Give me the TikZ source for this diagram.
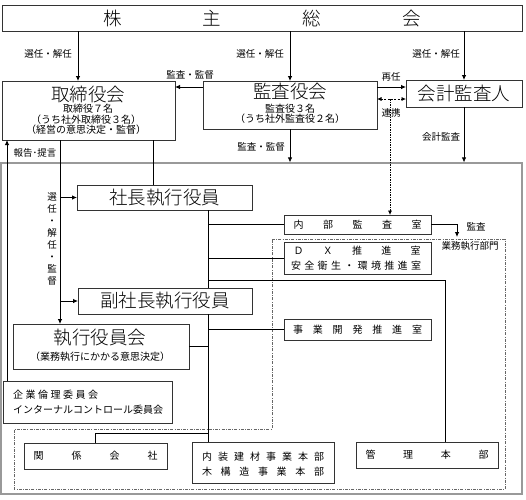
\documentclass[tikz,border=0pt]{standalone}
\usepackage{fontspec}
\setmainfont{Noto Sans CJK JP}
\IfFontExistsTF{Noto Sans CJK JP Light}{\newfontfamily\titlefont{Noto Sans CJK JP Light}}{\newfontfamily\titlefont{Noto Sans CJK JP}}
\usetikzlibrary{arrows.meta}
\begin{document}
\begin{tikzpicture}[x=1pt,y=-1pt,
 box/.style={draw=black!80, line width=0.8pt, inner sep=0pt, outer sep=0pt, fill=white},
 big/.style={font=\titlefont\fontsize{18.5}{20}\selectfont, inner sep=0pt},
 sm/.style={font=\fontsize{10}{12}\selectfont, inner sep=0pt},
 lbl/.style={font=\fontsize{9.5}{12}\selectfont, inner sep=0pt},
 arr/.style={-{Latex[length=5pt,width=4.5pt]}, line width=0.8pt},
 ln/.style={line width=0.8pt},
 dd/.style={draw=black!60, line width=0.7pt, dash pattern=on 3pt off 1.3pt on 0.8pt off 1.3pt},
 ]
\useasboundingbox (0,0) rectangle (526,499);
% outer frame
\node[draw=black!40, line width=1.2pt, minimum width=521pt, minimum height=331pt, inner sep=0pt] (outer) at (261.5,328.5) {};
% business execution area
\draw[dd] (272,239) -- (505,239) -- (505,489) -- (14,489) -- (14,429) -- (272,429) -- cycle;
% boxes
\node[box,big,minimum width=520pt,minimum height=26pt] (sh) at (262,18) {\makebox[318pt]{株\hfill 主\hfill 総\hfill 会}};
\node[box,minimum width=173pt,minimum height=59pt] (tb) at (88.5,110.5) {};
\node[big] (tbT) at (88,94) {取締役会};
\node[sm] (tb1) at (88,109) {取締役７名};
\node[sm] (tb2) at (86,119.5) {（うち社外取締役３名）};
\node[sm] (tb3) at (86,130) {（経営の意思決定・監督）};
\node[box,minimum width=174pt,minimum height=48pt] (ka) at (290,105) {};
\node[big] (kaT) at (290,91.5) {監査役会};
\node[sm] (ka1) at (290,108.5) {監査役３名};
\node[sm] (ka2) at (290,119) {（うち社外監査役２名）};
\node[box,big,minimum width=116pt,minimum height=27pt] (kk) at (464,93.5) {会計監査人};
\node[box,big,minimum width=175pt,minimum height=25pt] (sc) at (164.5,197.5) {社長執行役員};
\node[box,big,minimum width=174pt,minimum height=26pt] (fs) at (165,301) {副社長執行役員};
\node[box,sm,minimum width=147pt,minimum height=19pt] (na) at (357.5,224.5) {\makebox[128pt]{内\hfill 部\hfill 監\hfill 査\hfill 室}};
\node[box,minimum width=147pt,minimum height=32pt] (dx) at (357.5,258) {};
\node[sm] (dx1) at (357,251) {\makebox[127pt]{Ｄ\hfill Ｘ\hfill 推\hfill 進\hfill 室}};
\node[sm] (dx2) at (356,266) {\makebox[130pt]{安\hfill 全\hfill 衛\hfill 生\hfill ・\hfill 環\hfill 境\hfill 推\hfill 進\hfill 室}};
\node[box,sm,minimum width=147pt,minimum height=21pt] (jk) at (357.5,329.5) {\makebox[129pt]{事\hfill 業\hfill 開\hfill 発\hfill 推\hfill 進\hfill 室}};
\node[box,minimum width=176pt,minimum height=45pt] (sy) at (101,346.5) {};
\node[big] (syT) at (100,337.5) {執行役員会};
\node[sm] (sy1) at (100,357) {（業務執行にかかる意思決定）};
\node[box,minimum width=169pt,minimum height=42pt] (ki) at (87.5,402) {};
\node[sm,anchor=west] (ki1) at (13,395) {\makebox[85pt]{企\hfill 業\hfill 倫\hfill 理\hfill 委\hfill 員\hfill 会}};
\node[sm,anchor=west] (ki2) at (13,410) {インターナルコントロール委員会};
\node[box,sm,minimum width=143pt,minimum height=26pt] (kg) at (95.5,456) {\makebox[124pt]{関\hfill 係\hfill 会\hfill 社}};
\node[box,minimum width=142pt,minimum height=41pt] (nz) at (263,462.5) {};
\node[sm] (nz1) at (263,457) {\makebox[122pt]{内\hfill 装\hfill 建\hfill 材\hfill 事\hfill 業\hfill 本\hfill 部}};
\node[sm] (nz2) at (263,472) {\makebox[122pt]{木\hfill 構\hfill 造\hfill 事\hfill 業\hfill 本\hfill 部}};
\node[box,sm,minimum width=142pt,minimum height=26pt] (kr) at (427,455) {\makebox[123pt]{管\hfill 理\hfill 本\hfill 部}};
% helper coordinates
\coordinate (x7) at (7,0);
\coordinate (x60) at (60,0);
\coordinate (x78) at (78,0);
\coordinate (x153) at (153,0);
\coordinate (tr) at (208,0);
\coordinate (x445) at (445,0);
\coordinate (x457) at (457,0);
\coordinate (y87) at (0,87);
\coordinate (y99) at (0,99);
\coordinate (y280) at (0,280);
\coordinate (y433) at (0,433);
\coordinate (y237) at (0,237);
\coordinate (dv) at (390,99);
% connectors from shareholders meeting
\draw[arr] (sh.south -| x78) -- (tb.north -| x78);
\draw[arr] (sh.south -| ka.north) -- (ka.north);
\draw[arr] (sh.south -| kk.north) -- (kk.north);
\node[lbl] (l1) at (48,54) {選任・解任};
\node[lbl] (l2) at (260,54) {選任・解任};
\node[lbl] (l3) at (436,54) {選任・解任};
% audit board
\draw[arr] (ka.west |- y87) -- (tb.east |- y87);
\node[lbl] (l4) at (190,75) {監査・監督};
\draw[arr] (ka.east |- y87) -- (kk.west |- y87);
\node[lbl] (l5) at (391,77) {再任};
\draw[line width=0.7pt, dash pattern=on 2pt off 1.3pt, {Latex[length=4.5pt,width=4pt]}-{Latex[length=4.5pt,width=4pt]}] (ka.east |- y99) -- (kk.west |- y99);
\node[lbl] (l6) at (391,113) {連携};
\draw[line width=0.7pt, dash pattern=on 1.5pt off 1pt, -{Latex[length=4.5pt,width=4pt]}] (dv) -- (na.north -| dv);
\draw[arr] (kk.south) -- (kk.south |- outer.north);
\node[lbl] (l7) at (441,137) {会計監査};
\draw[arr] (ka.south) -- (ka.south |- outer.north);
\node[lbl] (l8) at (261,147) {監査・監督};
% board of directors
\draw[arr] (ki.north -| x7) -- (tb.south -| x7);
\node[lbl] (l9) at (35,153) {報告･提言};
\draw[arr] (tb.south -| x60) -- (sy.north -| x60);
\draw[arr] (sc.west -| x60) -- (sc.west);
\draw[arr] (fs.west -| x60) -- (fs.west);
\node[lbl, align=center, font=\fontsize{9.5}{12}\selectfont] (l10) at (52,239) {選\\任\\・\\解\\任\\・\\監\\督};
\draw[ln] (tb.south -| x153) -- (sc.north -| x153);
% executive trunk
\draw[ln] (sc.south -| tr) -- (fs.north -| tr);
\draw[ln] (fs.south -| tr) -- (nz.north -| tr);
\draw[ln] (na.west -| tr) -- (na.west);
\draw[ln] (dx.west -| tr) -- (dx.west);
\draw[ln] (jk.west -| tr) -- (jk.west);
\draw[ln] (sy.east) -- (sy.east -| tr);
\draw[ln] (tr |- y280) -- (x445 |- y280) -- (kr.north -| x445);
\draw[ln] (tr |- y433) -- (kg.north |- y433) -- (kg.north);
\draw[arr] (na.east) -- (na.east -| x457) -- (x457 |- y237);
\node[lbl] (l11) at (476,227) {監査};
\node[lbl] (l12) at (470,246) {業務執行部門};
\end{tikzpicture}
\end{document}
